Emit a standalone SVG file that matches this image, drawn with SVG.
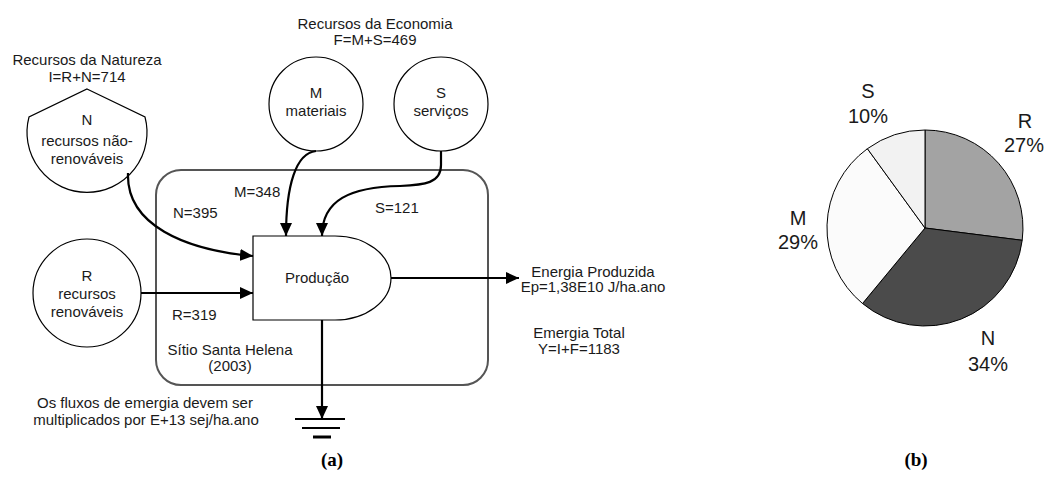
<svg xmlns="http://www.w3.org/2000/svg" width="1047" height="495" viewBox="0 0 1047 495">
  <style>
    text { font-family: "Liberation Sans", Arial, sans-serif; fill: #1a1a1a; }
    .t { font-size: 15px; text-anchor: middle; }
    .l { font-size: 15px; }
    .p { font-size: 20px; text-anchor: middle; }
    .cap { font-family: "Liberation Serif", "Times New Roman", serif; font-size: 19px; font-weight: bold; text-anchor: middle; fill: #000; }
    .node { fill: #fff; stroke: #000; stroke-width: 1.2; }
    .flow { fill: none; stroke: #000; stroke-width: 2.2; }
    .slice { stroke: #000; stroke-width: 1; }
  </style>
  <defs>
    <marker id="arrow" markerUnits="userSpaceOnUse" markerWidth="14" markerHeight="12" refX="13" refY="6" orient="auto">
      <path d="M0,0 L13,6 L0,12 Z" fill="#000"/>
    </marker>
  </defs>

  <rect width="1047" height="495" fill="#fff"/>

  <!-- system boundary -->
  <g id="system">
    <rect x="156" y="170" width="332" height="215" rx="25" ry="25" fill="none" stroke="#555" stroke-width="2"/>
    <text class="t" x="230" y="355">Sítio Santa Helena</text>
    <text class="t" x="230" y="371">(2003)</text>
  </g>

  <!-- group headings -->
  <g id="heading-nature">
    <text class="t" x="87" y="65">Recursos da Natureza</text>
    <text class="t" x="87" y="82">I=R+N=714</text>
  </g>
  <g id="heading-economy">
    <text class="t" x="375" y="29">Recursos da Economia</text>
    <text class="t" x="375" y="45">F=M+S=469</text>
  </g>

  <!-- non-renewable storage -->
  <g id="node-N">
    <path class="node" d="M87,89 L145,117 A60,60 0 1 1 29,117 Z"/>
    <text class="t" x="87" y="125">N</text>
    <text class="t" x="87" y="146">recursos não-</text>
    <text class="t" x="87" y="164">renováveis</text>
  </g>

  <!-- renewable source -->
  <g id="node-R">
    <circle class="node" cx="87" cy="293" r="54"/>
    <text class="t" x="87" y="281">R</text>
    <text class="t" x="87" y="299">recursos</text>
    <text class="t" x="87" y="317">renováveis</text>
  </g>

  <!-- materials source -->
  <g id="node-M">
    <circle class="node" cx="316" cy="104" r="47"/>
    <text class="t" x="316" y="98">M</text>
    <text class="t" x="316" y="116">materiais</text>
  </g>

  <!-- services source -->
  <g id="node-S">
    <circle class="node" cx="441" cy="104" r="47"/>
    <text class="t" x="441" y="98">S</text>
    <text class="t" x="441" y="116">serviços</text>
  </g>

  <!-- production unit -->
  <g id="node-producao">
    <path class="node" d="M253,236 H335 A56,42 0 0 1 335,320 H253 Z"/>
    <text class="t" x="317" y="283">Produção</text>
  </g>

  <!-- energy sink -->
  <g id="node-sink">
    <line x1="295" y1="419" x2="345" y2="419" stroke="#000" stroke-width="2.2"/>
    <line x1="302" y1="428" x2="340" y2="428" stroke="#000" stroke-width="2.2"/>
    <line x1="313" y1="437" x2="331" y2="437" stroke="#000" stroke-width="3"/>
  </g>

  <!-- flows -->
  <g id="connectors">
    <path class="flow" d="M128,173 C126,225 185,250 253,256" marker-end="url(#arrow)"/>
    <path class="flow" d="M141,293 H253" marker-end="url(#arrow)"/>
    <path class="flow" d="M316,151 C296,153 286,185 286,236" marker-end="url(#arrow)"/>
    <path class="flow" d="M441,151 V165 C441,183 425,185 400,186 C350,187 322,200 322,236" marker-end="url(#arrow)"/>
    <path class="flow" d="M391,278 H519" marker-end="url(#arrow)"/>
    <path class="flow" d="M322,320 V419" marker-end="url(#arrow)"/>
  </g>

  <!-- flow values -->
  <g id="flow-labels">
    <text class="l" x="173" y="218">N=395</text>
    <text class="l" x="234" y="197">M=348</text>
    <text class="l" x="375" y="213">S=121</text>
    <text class="l" x="172" y="320">R=319</text>
  </g>

  <g id="output-labels">
    <text class="t" x="593" y="277">Energia Produzida</text>
    <text class="t" x="593" y="292">Ep=1,38E10 J/ha.ano</text>
    <text class="t" x="579" y="338">Emergia Total</text>
    <text class="t" x="579" y="354">Y=I+F=1183</text>
  </g>

  <g id="note">
    <text class="t" x="145" y="408">Os fluxos de emergia devem ser</text>
    <text class="t" x="146" y="425">multiplicados por E+13 sej/ha.ano</text>
  </g>

  <!-- emergy share pie -->
  <g id="pie">
    <path class="slice" fill="#a3a3a3" d="M925,228 L925,130 A98,98 0 0 1 1022.2,240.3 Z"/>
    <path class="slice" fill="#4b4b4b" d="M925,228 L1022.2,240.3 A98,98 0 0 1 862.5,303.5 Z"/>
    <path class="slice" fill="#fbfbfb" d="M925,228 L862.5,303.5 A98,98 0 0 1 867.4,148.7 Z"/>
    <path class="slice" fill="#f2f2f2" d="M925,228 L867.4,148.7 A98,98 0 0 1 925,130 Z"/>
  </g>
  <g id="pie-labels">
    <text class="p" x="1025" y="128">R</text>
    <text class="p" x="1024" y="152">27%</text>
    <text class="p" x="988" y="345">N</text>
    <text class="p" x="988" y="371">34%</text>
    <text class="p" x="798" y="225">M</text>
    <text class="p" x="798" y="249">29%</text>
    <text class="p" x="868" y="98">S</text>
    <text class="p" x="868" y="123">10%</text>
  </g>

  <g id="captions">
    <text class="cap" x="332" y="466">(a)</text>
    <text class="cap" x="916" y="466">(b)</text>
  </g>
</svg>
